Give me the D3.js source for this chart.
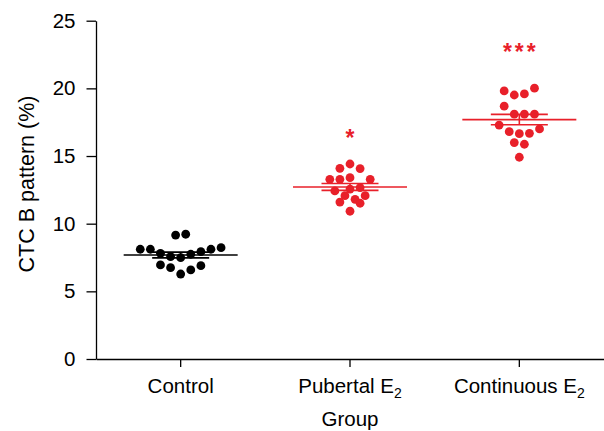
<!DOCTYPE html>
<html>
<head>
<meta charset="utf-8">
<script src="https://cdn.jsdelivr.net/npm/d3@7"></script>
<style>
  html, body { margin: 0; padding: 0; background: #fff; }
  svg { display: block; font-family: "Liberation Sans", Arial, Helvetica, sans-serif; }
</style>
</head>
<body>
<svg id="chart" width="604" height="431"></svg>
<script>
// Group labels (subscript handled when drawing the tick text)
const groups = ["Control", "Pubertal E2", "Continuous E2"];
const groupColors = ["#000000", "#e8202a", "#e8202a"];
const significance = ["", "*", "***"];

// Individual CTC B pattern values (%) per group
const controlValues = [9.16, 9.22, 8.11, 8.11, 7.81, 7.56, 7.49, 7.74, 7.93, 8.11, 8.23, 6.95, 6.75, 6.28, 6.58, 6.90];
const pubertalValues = [14.41, 14.09, 14.07, 13.28, 13.28, 13.40, 13.28, 12.42, 12.56, 12.66, 12.07, 12.07, 11.60, 11.80, 11.51, 10.92];
const continuousValues = [19.81, 19.51, 19.59, 20.01, 18.68, 18.09, 18.09, 18.09, 17.29, 17.00, 16.80, 16.65, 16.68, 15.99, 15.87, 14.91];

// Horizontal jitter offset (in dot-widths) for each point, so dots sit side by side
const controlOffsets = [-0.5, 0.5, -4, -3, -2, -1, 0, 1, 2, 3, 4, -2, -1, 0, 1, 2];
const pubertalOffsets = [0, -1, 1, -2, -1, 0, 2, -1.5, 0, 1, -0.5, 1.5, -1, 0.5, 1, 0];
const continuousOffsets = [-1.5, -0.5, 0.5, 1.5, -1.5, -0.5, 0.5, 1.5, -2, 2, -1, 0, 1, -0.5, 0.5, 0];

const yTicks = [0, 5, 10, 15, 20, 25];

const series = [
  { values: controlValues, offsets: controlOffsets },
  { values: pubertalValues, offsets: pubertalOffsets },
  { values: continuousValues, offsets: continuousOffsets }
];

const svg = d3.select("#chart");
const margin = { left: 96, right: 0 };
const width = 604;
const fontSize = 20.5;

const x = d3.scaleBand().domain(groups).range([margin.left, width]).paddingInner(0).paddingOuter(0);
const y = d3.scaleLinear().domain([0, 25]).range([359, 20.7]);

const dotR = 4.4;
const dotStep = 10.1;

// Y axis
const yAxis = svg.append("g")
  .attr("transform", `translate(${margin.left},0)`)
  .call(d3.axisLeft(y).tickValues(yTicks).tickSize(9.5).tickPadding(11).tickSizeOuter(0));
yAxis.select(".domain").attr("stroke", "#000").attr("stroke-width", 1.3);
yAxis.selectAll(".tick line").attr("stroke", "#000").attr("stroke-width", 1.3);
yAxis.selectAll(".tick text").attr("font-size", fontSize).attr("fill", "#000")
  .attr("font-family", "Liberation Sans, Arial, sans-serif");

// X axis
const xAxis = svg.append("g")
  .attr("transform", `translate(0,${y(0)})`)
  .call(d3.axisBottom(x).tickSize(8).tickPadding(11).tickSizeOuter(0));
xAxis.select(".domain").attr("stroke", "#000").attr("stroke-width", 1.3);
xAxis.selectAll(".tick line").attr("stroke", "#000").attr("stroke-width", 1.3);
xAxis.selectAll(".tick text").each(function(d) {
  const t = d3.select(this).text("").attr("font-size", fontSize).attr("fill", "#000")
    .attr("font-family", "Liberation Sans, Arial, sans-serif");
  const m = d.match(/^(.*)E2$/);
  if (m) {
    t.append("tspan").text(m[1] + "E");
    t.append("tspan").text("2").attr("font-size", 14).attr("dy", "0.4em");
  } else {
    t.text(d);
  }
});

// Axis titles
svg.append("text")
  .attr("x", x(groups[1]) + x.bandwidth() / 2)
  .attr("y", 426)
  .attr("text-anchor", "middle")
  .attr("font-size", fontSize)
  .text("Group");

svg.append("text")
  .attr("transform", `translate(33.5,184) rotate(-90)`)
  .attr("text-anchor", "middle")
  .attr("font-size", 21.5)
  .text("CTC B pattern (%)");

// Points, mean line and SEM bars
series.forEach((s, i) => {
  const cx = x(groups[i]) + x.bandwidth() / 2;
  const color = groupColors[i];
  const g = svg.append("g");

  g.selectAll("circle")
    .data(s.values)
    .join("circle")
    .attr("cx", (d, j) => cx + s.offsets[j] * dotStep)
    .attr("cy", d => y(d))
    .attr("r", dotR)
    .attr("fill", color);

  const mean = d3.mean(s.values);
  const sem = d3.deviation(s.values) / Math.sqrt(s.values.length);

  g.append("line")
    .attr("x1", cx - 57).attr("x2", cx + 57)
    .attr("y1", y(mean)).attr("y2", y(mean))
    .attr("stroke", color).attr("stroke-width", 1.6);
  g.append("line")
    .attr("x1", cx).attr("x2", cx)
    .attr("y1", y(mean - sem)).attr("y2", y(mean + sem))
    .attr("stroke", color).attr("stroke-width", 1.6);
  [mean - sem, mean + sem].forEach(v => {
    g.append("line")
      .attr("x1", cx - 28.5).attr("x2", cx + 28.5)
      .attr("y1", y(v)).attr("y2", y(v))
      .attr("stroke", color).attr("stroke-width", 1.6);
  });

  // Significance marker, centred a fixed distance above the highest point
  if (significance[i]) {
    const top = d3.max(s.values);
    const starCenter = y(top) + (i === 2 ? -41.5 : -31);
    svg.append("text")
      .attr("x", cx + (significance[i].length > 1 ? 1.5 : 0))
      .attr("y", starCenter + 13)
      .attr("text-anchor", "middle")
      .attr("font-size", 23)
      .attr("font-weight", "bold")
      .attr("letter-spacing", significance[i].length > 1 ? 3 : 0)
      .attr("fill", color)
      .text(significance[i]);
  }
});
</script>
</body>
</html>
